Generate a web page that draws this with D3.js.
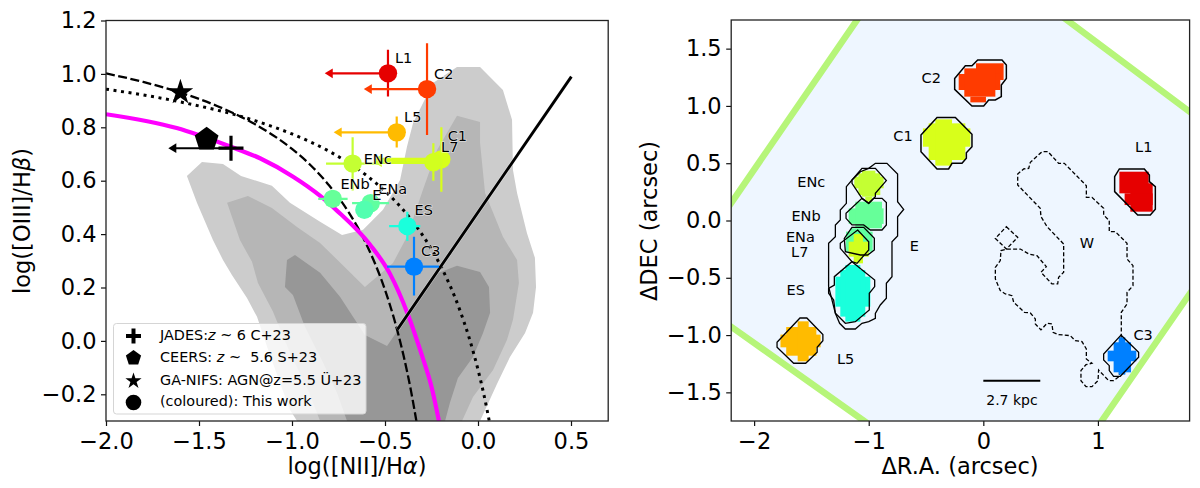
<!DOCTYPE html>
<html>
<meta charset="utf-8">
<script src="https://d3js.org/d3.v7.min.js"></script>
<style>
body{ margin:0; background:white; }
text{ font-family:"DejaVu Sans", sans-serif; fill:black; }
.tick line{ stroke:#111; stroke-width:1.2px; }
.domain{ display:none; }
</style>
<body>
<svg id="fig" width="1200" height="488"></svg>
<script>
// ---- left panel data (BPT diagram)
const bptXTicks = [-2, -1.5, -1, -0.5, 0, 0.5];
const bptYTicks = [-0.2, 0, 0.2, 0.4, 0.6, 0.8, 1.0, 1.2];

const contourOuter = [[-1.565,.618],[-1.484,.67],[-1.371,.663],[-1.274,.618],[-1.108,.581],[-1.011,.517],[-.849,.446],[-.731,.397],[-.618,.416],[-.511,.491],[-.419,.603],[-.382,.727],[-.349,.816],[-.242,.966],[-.113,1.026],[.011,1.026],[.134,.94],[.183,.828],[.188,.64],[.21,.554],[.263,.404],[.306,.311],[.312,.202],[.296,.105],[.253,.03],[.172,-.06],[.102,-.161],[.011,-.3],[-.973,-.3],[-1.011,-.258],[-1.065,-.157],[-1.134,-.022],[-1.188,.09],[-1.242,.161],[-1.323,.247],[-1.371,.303],[-1.425,.378],[-1.511,.517]];
const contourMid = [[-1.349,.517],[-1.237,.543],[-1.108,.498],[-.973,.427],[-.849,.367],[-.608,.202],[-.457,.292],[-.382,.39],[-.296,.566],[-.22,.715],[-.113,.843],[.011,.82],[.011,.742],[.038,.554],[.134,.39],[.21,.303],[.22,.217],[.188,.079],[.156,.004],[.081,-.109],[-.027,-.21],[-.086,-.3],[-.849,-.3],[-.914,-.184],[-1.011,-.045],[-1.102,.109],[-1.183,.217],[-1.215,.296],[-1.28,.378]];
const contourDark = [[-1.027,.303],[-.984,.322],[-.849,.255],[-.742,.165],[-.608,.022],[-.489,-.019],[-.43,.041],[-.371,.105],[-.242,.247],[-.113,.281],[.011,.258],[.059,.202],[.065,.105],[.027,.03],[-.027,-.06],[-.108,-.139],[-.151,-.232],[-.177,-.3],[-.704,-.3],[-.758,-.195],[-.833,-.082],[-.93,.052],[-.995,.172],[-1.038,.202]];

const dashedCurve = [[-2,1.002],[-1.8,.97],[-1.6,.93],[-1.4,.879],[-1.2,.812],[-1,.719],[-.9,.658],[-.8,.582],[-.7,.487],[-.6,.362],[-.5,.191],[-.45,.08],[-.4,-.056],[-.36,-.188],[-.331,-.301]];
const dottedCurve = [[-2,.943],[-1.6,.895],[-1.2,.825],[-1,.775],[-.8,.71],[-.6,.62],[-.5,.561],[-.4,.489],[-.3,.398],[-.2,.28],[-.1,.12],[-.05,.017],[0,-.108],[.03,-.196],[.06,-.298]];
const magentaCurve = [[-2,.849],[-1.62,.797],[-1.333,.728],[-1.172,.684],[-.994,.615],[-.85,.544],[-.76,.489],[-.58,.36],[-.473,.251],[-.378,.101],[-.304,-.049],[-.25,-.172],[-.21,-.3]];
const solidLine = [[-.433,.043],[.502,.99]];

const regionNames = ["L1", "C2", "L5", "C1", "L7", "ENc", "ENb", "ENa", "E", "ES", "C3"];
const regionColors = ["#e60000", "#ff3b00", "#ffbb00", "#d8ff1a", "#d2ff1f", "#c4ff33", "#66ff99", "#60ffa0", "#52ffb0", "#1affdc", "#0080ff"];
const bptX = [-.484, -.274, -.437, -.197, -.24, -.674, -.781, -.577, -.611, -.38, -.344];
const bptY = [1.002, .943, .781, .68, .669, .664, .532, .516, .491, .43, .278];
const bptXLow = [-.824, -.614, -.776, -.56, -.56, -.817, -.859, -.677, -.611, -.478, -.489];
const bptXHigh = [-.484, -.274, -.437, -.197, -.24, -.53, -.701, -.478, -.611, -.31, -.21];
const bptYLow = [.915, .771, .724, .559, .6, .563, .532, .516, .491, .374, .17];
const bptYHigh = [1.09, 1.115, .84, .8, .74, .763, .532, .516, .491, .484, .39];
const bptUpperLimit = [true, true, true, true, true, false, false, false, false, false, false];
const bptLabelDx = [15.7, 16.7, 16, 16, 16.4, 25, 22.3, 22, 12.4, 16.4, 16.7];
const bptLabelDy = [-15, -15.3, -15.6, -23.3, -15.6, -4.4, -15, -14.3, -15, -15.6, -16];

const jades = [-1.328, .722];
const jadesLimit = -1.665;
const ceers = [-1.459, .755];
const gaNifs = [-1.6, .931];

// ---- right panel data (map)
const mapXTicks = [-2, -1, 0, 1];
const mapYTicks = [-1.5, -1, -0.5, 0, 0.5, 1, 1.5];

const fovCorners = [[-2.70,-.573],[-.48,2.654],[2.525,.407],[.351,-2.736]];

const outlineW = [[.526,.601],[.564,.601],[.657,.499],[.707,.499],[.899,.304],[.899,.202],[.948,.202],[1.05,.106],[1.05,.048],[1.099,-.001],[1.099,-.097],[1.152,-.097],[1.254,-.199],[1.254,-.336],[1.306,-.394],[1.306,-.569],[1.254,-.627],[1.254,-.729],[1.204,-.801],[1.204,-1],[1.187,-1.36],[1.137,-1.398],[1.094,-1.398],[1.006,-1.305],[1.001,-1.398],[.948,-1.45],[.896,-1.45],[.852,-1.398],[.852,-1.31],[.896,-1.258],[.948,-1.246],[.899,-1.209],[.899,-1.121],[.861,-1.057],[.803,-1.049],[.759,-1.005],[.657,-.996],[.608,-.976],[.599,-.903],[.556,-.897],[.503,-.955],[.454,-.903],[.454,-.859],[.41,-.807],[.358,-.801],[.265,-.714],[.25,-.656],[.192,-.641],[.148,-.612],[.105,-.51],[.105,-.409],[.148,-.35],[.154,-.263],[.207,-.249],[.323,-.249],[.396,-.292],[.468,-.307],[.55,-.403],[.503,-.452],[.599,-.554],[.649,-.554],[.657,-.496],[.701,-.452],[.701,-.205],[.556,-.054],[.503,.034],[.497,.106],[.3,.31],[.3,.406],[.352,.45],[.396,.455],[.41,.508],[.503,.592]];
const outlineWsmall = [[.201,-.054],[.3,-.147],[.201,-.249],[.105,-.156]];
const outlineE = [[-.942,.499],[-.841,.499],[-.748,.406],[-.748,.164],[-.695,.097],[-.748,.033],[-.748,-.135],[-.797,-.185],[-.797,-.49],[-.846,-.548],[-.846,-.679],[-.899,-.737],[-.942,-.81],[-.942,-.854],[-1,-.883],[-1.059,-.897],[-1.117,-.947],[-1.204,-.947],[-1.254,-.897],[-1.291,-.81],[-1.35,-.577],[-1.35,-.199],[-1.291,-.141],[-1.291,-.039],[-1.248,.004],[-1.248,.092],[-1.195,.15],[-1.195,.295],[-1.146,.353],[-1.073,.426],[-1,.455]];
const outlineL1 = [[1.146,.382],[1.187,.45],[1.405,.45],[1.449,.397],[1.449,.339],[1.501,.296],[1.501,.098],[1.457,.048],[1.347,.048],[1.146,.252]];
const outlineC2 = [[-.25,1.24],[-.157,1.351],[-.099,1.351],[-.049,1.401],[.163,1.401],[.201,1.357],[.201,1.24],[.157,1.182],[.157,1.081],[.105,1.052],[.047,1.052],[.003,.999],[-.099,.999],[-.25,1.145]];
const outlineC1 = [[-.544,.746],[-.404,.9],[-.244,.9],[-.099,.752],[-.099,.644],[-.148,.592],[-.148,.543],[-.186,.499],[-.273,.499],[-.303,.45],[-.404,.45],[-.544,.601]];
const outlineL5 = [[-1.8,-1.063],[-1.6,-.851],[-1.54,-.851],[-1.4,-.996],[-1.4,-1.049],[-1.45,-1.107],[-1.45,-1.15],[-1.55,-1.246],[-1.655,-1.246],[-1.8,-1.107]];
const outlineC3 = [[1.201,-1],[1.355,-1.15],[1.355,-1.194],[1.195,-1.36],[1.137,-1.36],[1.099,-1.31],[1.099,-1.267],[1.05,-1.217],[1.05,-1.165]];
const outlineES = [[-1.146,-.359],[-.948,-.519],[-.948,-.577],[-.995,-.635],[-.995,-.781],[-1.117,-.883],[-1.204,-.897],[-1.291,-.81],[-1.306,-.694],[-1.35,-.635],[-1.35,-.592],[-1.3,-.563],[-1.3,-.49]];
const outlineENc = [[-1.059,.455],[-.942,.455],[-.846,.348],[-.942,.237],[-.942,.208],[-1,.15],[-1.059,.193],[-1.146,.324],[-1.146,.353]];
const outlineENb = [[-1.059,.193],[-1,.15],[-.957,.193],[-.884,.193],[-.846,.156],[-.846,-.039],[-.884,-.083],[-.986,-.083],[-1.044,-.039],[-1.146,-.039],[-1.198,.019],[-1.198,.062]];
const outlineENa = [[-1.146,-.06],[-1.044,-.06],[-.951,-.156],[-.951,-.257],[-1.009,-.301],[-1.073,-.301],[-1.204,-.272],[-1.213,-.156]];
const outlineL7 = [[-1.097,-.083],[-1,-.185],[-1,-.257],[-1.102,-.374],[-1.146,-.359],[-1.248,-.243],[-1.248,-.199]];

// spaxel masks as [x0, x1, y0, y1] boxes
const maskL1 = [[1.187,1.443,.237,.426],[1.283,1.478,.077,.325],[1.233,1.478,.135,.237]];
const maskC2 = [[-.064,.177,1.226,1.372],[-.215,.148,1.139,1.279],[-.166,.105,1.081,1.328],[-.113,.023,1.031,1.081]];
const maskC1 = [[-.527,-.113,.644,.804],[-.477,-.157,.528,.848],[-.419,-.273,.479,.883]];
const maskL5 = [[-1.77,-1.42,-1.107,-.996],[-1.72,-1.457,-1.18,-.93],[-1.62,-1.524,-1.229,-.88]];
const maskC3 = [[1.085,1.335,-1.229,-1.136],[1.137,1.289,-1.325,-1.063],[1.181,1.239,-1.345,-1.02]];
const maskES = [[-1.291,-.986,-.752,-.49],[-1.248,-1.03,-.839,-.432],[-1.204,-1.073,-.883,-.388]];
const maskENc = [[-1.126,-.87,.281,.382],[-1.09,-.899,.222,.412],[-1.059,-.942,.208,.435],[-1.03,-.97,.164,.208]];
const maskENb = [[-1.175,-.87,-.03,.106],[-1.117,-.884,-.068,.164]];
const maskENa = [[-1.198,-.966,-.272,-.097],[-1.16,-1,-.301,-.068]];
const maskL7 = [[-1.175,-1,-.316,-.185],[-1.131,-1.05,-.374,-.118]];

const mapLabels = ["C2", "C1", "ENc", "ENb", "ENa", "L7", "ES", "L5", "E", "W", "L1", "C3"];
const mapLabelX = [-.454, -.701, -1.501, -1.547, -1.596, -1.602, -1.637, -1.202, -.602, .905, 1.4, 1.394];
const mapLabelY = [1.24, .74, .338, .039, -.14, -.278, -.606, -1.209, -.22, -.2, .644, -1.0];

const scaleBarX = [0, .497];
const scaleBarY = -1.398;

const svg = d3.select("#fig");

// scales
const bx = d3.scaleLinear().domain([-2, 0.7]).range([106, 608.2]);
const by = d3.scaleLinear().domain([-0.3, 1.2]).range([421, 20.5]);
const mx = d3.scaleLinear().domain([-2.2, 1.8]).range([731.2, 1189.6]);
const my = d3.scaleLinear().domain([-1.75, 1.75]).range([421, 20]);

const defs = svg.append("defs");
defs.append("clipPath").attr("id", "clipL").append("rect").attr("x", 106).attr("y", 20.5).attr("width", 502.2).attr("height", 400.5);
defs.append("clipPath").attr("id", "clipR").append("rect").attr("x", 731.2).attr("y", 20).attr("width", 458.4).attr("height", 401);

const line_b = d3.line().x(d => bx(d[0])).y(d => by(d[1]));
const line_m = d3.line().x(d => mx(d[0])).y(d => my(d[1]));

// ---- left panel
const gL = svg.append("g").attr("clip-path", "url(#clipL)");

[[contourOuter, "#cccccc"], [contourMid, "#b6b6b6"], [contourDark, "#979797"]].forEach(function(c){
	gL.append("path").attr("d", line_b(c[0]) + "Z").attr("fill", c[1]);
});

const smooth = d3.line().x(d => bx(d[0])).y(d => by(d[1])).curve(d3.curveMonotoneX);
gL.append("path").attr("d", smooth(dashedCurve)).attr("fill", "none").attr("stroke", "black").attr("stroke-width", 2.3).attr("stroke-dasharray", "9,3.5");
gL.append("path").attr("d", smooth(dottedCurve)).attr("fill", "none").attr("stroke", "black").attr("stroke-width", 3).attr("stroke-dasharray", "3,4.6");
gL.append("path").attr("d", smooth(magentaCurve)).attr("fill", "none").attr("stroke", "#ff00ff").attr("stroke-width", 4.2);
gL.append("path").attr("d", line_b(solidLine)).attr("fill", "none").attr("stroke", "white").attr("stroke-width", 3.8).attr("opacity", 0.6);
gL.append("path").attr("d", line_b(solidLine)).attr("fill", "none").attr("stroke", "black").attr("stroke-width", 2.9);

function arrowHead(g, x, y, color){
	g.append("path").attr("d", "M" + x + "," + y + "l8,-4.8l0,9.6Z").attr("fill", color);
}

// literature points
function pentagon(cx, cy, r){
	const pts = d3.range(5).map(i => [cx + r*Math.sin(i*2*Math.PI/5), cy - r*Math.cos(i*2*Math.PI/5)]);
	return "M" + pts.join("L") + "Z";
}
function star(cx, cy, r){
	const pts = d3.range(10).map(function(i){
		const rr = i % 2 ? r*0.382 : r;
		return [cx + rr*Math.sin(i*Math.PI/5), cy - rr*Math.cos(i*Math.PI/5)];
	});
	return "M" + pts.join("L") + "Z";
}
gL.append("path").attr("d", star(bx(gaNifs[0]), by(gaNifs[1]), 13.5)).attr("fill", "black");
gL.append("path").attr("d", pentagon(bx(ceers[0]), by(ceers[1]), 12.5)).attr("fill", "black");
gL.append("line").attr("x1", bx(jadesLimit)+4).attr("x2", bx(jades[0])).attr("y1", by(jades[1])).attr("y2", by(jades[1])).attr("stroke", "black").attr("stroke-width", 2);
arrowHead(gL, bx(jadesLimit), by(jades[1]), "black");
gL.append("line").attr("x1", bx(jades[0])-12.5).attr("x2", bx(jades[0])+12.5).attr("y1", by(jades[1])).attr("y2", by(jades[1])).attr("stroke", "black").attr("stroke-width", 3.2);
gL.append("line").attr("x1", bx(jades[0])).attr("x2", bx(jades[0])).attr("y1", by(jades[1])-12.5).attr("y2", by(jades[1])+12.5).attr("stroke", "black").attr("stroke-width", 3.2);

// error bars and dots for the regions of this work
regionNames.forEach(function(name, i){
	const c = regionColors[i];
	const g = gL.append("g");
	const xl = bptUpperLimit[i] ? bx(bptXLow[i]) + 4 : bx(bptXLow[i]);
	const hw = (name == "C1" || name == "L7") ? 3.2 : 2.2;
	g.append("line").attr("x1", xl).attr("x2", bx(bptXHigh[i])).attr("y1", by(bptY[i])).attr("y2", by(bptY[i])).attr("stroke", c).attr("stroke-width", hw);
	g.append("line").attr("x1", bx(bptX[i])).attr("x2", bx(bptX[i])).attr("y1", by(bptYLow[i])).attr("y2", by(bptYHigh[i])).attr("stroke", c).attr("stroke-width", 2.2);
	if(bptUpperLimit[i]) arrowHead(g, bx(bptXLow[i]), by(bptY[i]), c);
	g.append("circle").attr("cx", bx(bptX[i])).attr("cy", by(bptY[i])).attr("r", 9.2).attr("fill", c);
});
regionNames.forEach(function(name, i){
	gL.append("text")
		.attr("x", bx(bptX[i]) + bptLabelDx[i]).attr("y", by(bptY[i]) + bptLabelDy[i])
		.attr("text-anchor", "middle").attr("dominant-baseline", "central")
		.style("font-size", "14.5px")
		.style("paint-order", "stroke").style("stroke", "white").style("stroke-width", "1.2px").style("stroke-opacity", 0.7)
		.text(name);
});

// legend
const legendRows = [334.5, 356.5, 379.5, 400.5];
svg.append("rect").attr("x", 113.5).attr("y", 323.5).attr("width", 252.5).attr("height", 90.5).attr("rx", 3)
	.attr("fill", "white").attr("fill-opacity", 0.8).attr("stroke", "#d5d5d5").attr("stroke-width", 1);
const lgx = 133.5;
svg.append("line").attr("x1", lgx-7.5).attr("x2", lgx+7.5).attr("y1", legendRows[0]+1.5).attr("y2", legendRows[0]+1.5).attr("stroke", "black").attr("stroke-width", 4);
svg.append("line").attr("x1", lgx).attr("x2", lgx).attr("y1", legendRows[0]-6).attr("y2", legendRows[0]+9).attr("stroke", "black").attr("stroke-width", 4);
svg.append("path").attr("d", pentagon(lgx, legendRows[1]+1.5, 8)).attr("fill", "black");
svg.append("path").attr("d", star(lgx, legendRows[2]+1.5, 8.5)).attr("fill", "black");
svg.append("circle").attr("cx", lgx).attr("cy", legendRows[3]+2).attr("r", 7.8).attr("fill", "black");

const legendText = [
	[["JADES:", 0], ["z", 1], [" ~ 6 C+23", 0]],
	[["CEERS: ", 0], ["z", 1], [" ~  5.6 S+23", 0]],
	[["GA-NIFS: AGN@z=5.5 Ü+23", 0]],
	[["(coloured): This work", 0]]
];
legendText.forEach(function(parts, i){
	const t = svg.append("text").attr("x", 160).attr("y", legendRows[i]).attr("dominant-baseline", "central")
		.attr("xml:space", "preserve").style("white-space", "pre").style("font-size", "14.4px");
	parts.forEach(function(p){
		t.append("tspan").style("font-style", p[1] ? "italic" : "normal").text(p[0]);
	});
});

// ---- right panel
const gR = svg.append("g").attr("clip-path", "url(#clipR)");
gR.append("path").attr("d", line_m(fovCorners) + "Z").attr("fill", "#eef6ff").attr("stroke", "#b6f579").attr("stroke-width", 6.5);

function addOutline(pts, dash, sw){
	gR.append("path").attr("d", line_m(pts) + "Z").attr("fill", "none").attr("stroke", "black")
		.attr("stroke-width", sw).attr("stroke-dasharray", dash);
}
function addMask(boxes, color){
	gR.append("g").selectAll("rect").data(boxes).join("rect")
		.attr("x", d => mx(d[0])).attr("width", d => mx(d[1]) - mx(d[0]))
		.attr("y", d => my(d[3])).attr("height", d => my(d[2]) - my(d[3]))
		.attr("fill", color);
}

addOutline(outlineW, "4,2.2", 1.3);
addOutline(outlineWsmall, "4,2.2", 1.3);
addMask(maskENa, regionColors[7]);
addMask(maskL7, regionColors[4]);
addMask(maskENb, regionColors[6]);
addMask(maskENc, regionColors[5]);
addMask(maskES, regionColors[9]);
addMask(maskL1, regionColors[0]);
addMask(maskC2, regionColors[1]);
addMask(maskC1, regionColors[3]);
addMask(maskL5, regionColors[2]);
addMask(maskC3, regionColors[10]);
[outlineE, outlineENc, outlineENb, outlineENa, outlineL7, outlineES, outlineL5].forEach(o => addOutline(o, null, 1.3));
[outlineL1, outlineC2, outlineC1].forEach(o => addOutline(o, null, 1.5));
addOutline(outlineC3, null, 1.3);

mapLabels.forEach(function(name, i){
	gR.append("text").attr("x", mx(mapLabelX[i])).attr("y", my(mapLabelY[i]))
		.attr("text-anchor", "middle").attr("dominant-baseline", "central")
		.style("font-size", "14.5px").text(name);
});
gR.append("line").attr("x1", mx(scaleBarX[0])).attr("x2", mx(scaleBarX[1])).attr("y1", my(scaleBarY)).attr("y2", my(scaleBarY)).attr("stroke", "black").attr("stroke-width", 2);
gR.append("text").attr("x", mx(.25)).attr("y", my(-1.563)).attr("text-anchor", "middle").attr("dominant-baseline", "central").style("font-size", "14px").text("2.7 kpc");

// ---- axes and frames
function drawAxes(x, y, xticks, yticks, xfmt, yfmt){
	const b = svg.append("g").attr("transform", "translate(0," + y.range()[0] + ")")
		.call(d3.axisBottom(x).tickValues(xticks).tickFormat(xfmt).tickSize(5).tickPadding(7));
	const l = svg.append("g").attr("transform", "translate(" + x.range()[0] + ",0)")
		.call(d3.axisLeft(y).tickValues(yticks).tickFormat(yfmt).tickSize(5).tickPadding(4.5));
	[b, l].forEach(g => g.selectAll("text").style("font-size", "22.5px").style("font-family", '"DejaVu Sans"').attr("fill", "black"));
	svg.append("rect").attr("x", x.range()[0]).attr("y", y.range()[1])
		.attr("width", x.range()[1]-x.range()[0]).attr("height", y.range()[0]-y.range()[1])
		.attr("fill", "none").attr("stroke", "#222").attr("stroke-width", 1.3);
}
drawAxes(bx, by, bptXTicks, bptYTicks, d3.format(".1f"), d3.format(".1f"));
drawAxes(mx, my, mapXTicks, mapYTicks, d3.format("d"), d3.format(".1f"));

function axisLabel(x, y, rot, parts){
	const t = svg.append("text").attr("text-anchor", "middle")
		.attr("transform", "translate(" + x + "," + y + ")" + (rot ? " rotate(-90)" : ""))
		.style("font-size", "22.5px");
	parts.forEach(function(p){
		t.append("tspan").style("font-style", p[1] ? "italic" : "normal").text(p[0]);
	});
}
axisLabel(357, 474, false, [["log([NII]/H", 0], ["α", 1], [")", 0]]);
axisLabel(29.5, 221, true, [["log([OIII]/H", 0], ["β", 1], [")", 0]]);
axisLabel(960, 474, false, [["ΔR.A. (arcsec)", 0]]);
axisLabel(656.5, 221, true, [["ΔDEC (arcsec)", 0]]);
</script>
</body>
</html>
